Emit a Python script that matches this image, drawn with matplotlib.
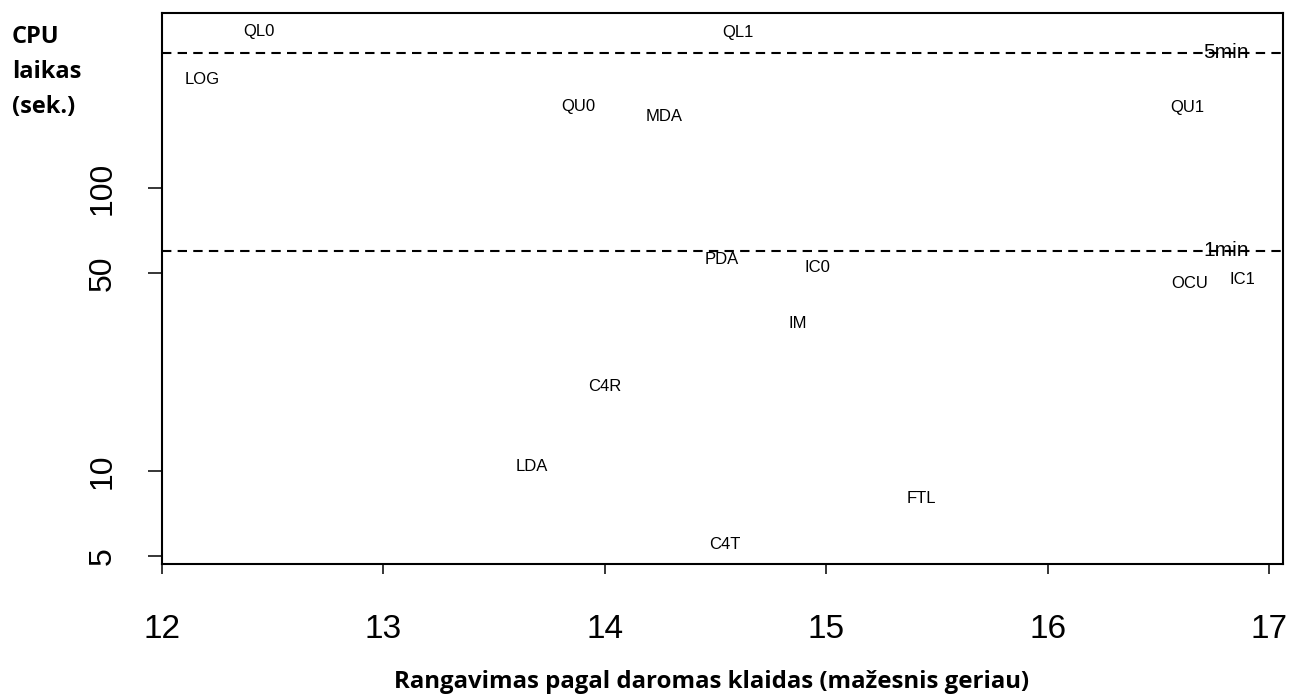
import matplotlib
matplotlib.use("Agg")
import matplotlib.pyplot as plt
from matplotlib.ticker import FixedLocator, FixedFormatter, NullLocator

# ---- data ----
methods = ["QL0", "QL1", "LOG", "QU0", "MDA", "QU1", "PDA", "IC0",
           "OCU", "IC1", "IM", "C4R", "LDA", "FTL", "C4T"]
error_rank = [12.44, 14.60, 12.18, 13.88, 14.27, 16.63, 14.53, 14.96,
              16.64, 16.88, 14.87, 14.00, 13.67, 15.43, 14.54]
cpu_time = [357, 355, 241, 194, 179, 192, 56.0, 52.5,
            46.0, 47.5, 33.2, 19.9, 10.4, 7.96, 5.5]

ref_values = [300, 60]
ref_labels = ["5min", "1min"]
ref_label_x = 16.806

xticks = [12, 13, 14, 15, 16, 17]
yticks = [5, 10, 50, 100]
ytick_labels = ["5", "10", "50", "100"]

ylabel_text = "CPU\nlaikas\n(sek.)"
xlabel_text = "Rangavimas pagal daromas klaidas (mažesnis geriau)"

# ---- figure ----
W, H = 1290, 695
fig = plt.figure(figsize=(W / 100, H / 100), dpi=100)
left, right, top, bottom = 162, 1283, 12.5, 564
ax = fig.add_axes([left / W, 1 - bottom / H, (right - left) / W, (bottom - top) / H])

ax.set_yscale("log")
ax.set_xlim(12, 17.063)
ax.set_ylim(4.69, 417)

label_font = dict(family=["Liberation Sans", "DejaVu Sans"], size=12)
for m, x, y in zip(methods, error_rank, cpu_time):
    ax.text(x, y, m, ha="center", va="center", **label_font)

for v, lab in zip(ref_values, ref_labels):
    ax.axhline(v, color="black", lw=1.5, dashes=(4.5, 3.0))
    ax.text(ref_label_x, v, lab, ha="center", va="center",
            family=["Liberation Sans", "DejaVu Sans"], size=15)

ax.xaxis.set_major_locator(FixedLocator(xticks))
ax.yaxis.set_major_locator(FixedLocator(yticks))
ax.yaxis.set_major_formatter(FixedFormatter(ytick_labels))
ax.yaxis.set_minor_locator(NullLocator())

ax.tick_params(axis="x", direction="out", length=7, width=1.1, pad=29,
               labelsize=24)
ax.tick_params(axis="y", direction="out", length=10, width=1.1, pad=22,
               labelsize=23)
for lbl in ax.get_xticklabels() + ax.get_yticklabels():
    lbl.set_family(["Liberation Sans", "DejaVu Sans"])
for lbl in ax.get_yticklabels():
    lbl.set_rotation(90)
    lbl.set_va("center")

for s in ax.spines.values():
    s.set_linewidth(1.5)

fig.text(12 / W, 1 - 25 / H, ylabel_text, ha="left", va="top",
         family=["Open Sans", "DejaVu Sans"], weight="bold", size=17,
         linespacing=1.62)
fig.text(712 / W, 1 - 682 / H, xlabel_text, ha="center", va="center",
         family=["Open Sans", "DejaVu Sans"], weight="bold", size=17.3)

fig.savefig("out.png", dpi=100)
